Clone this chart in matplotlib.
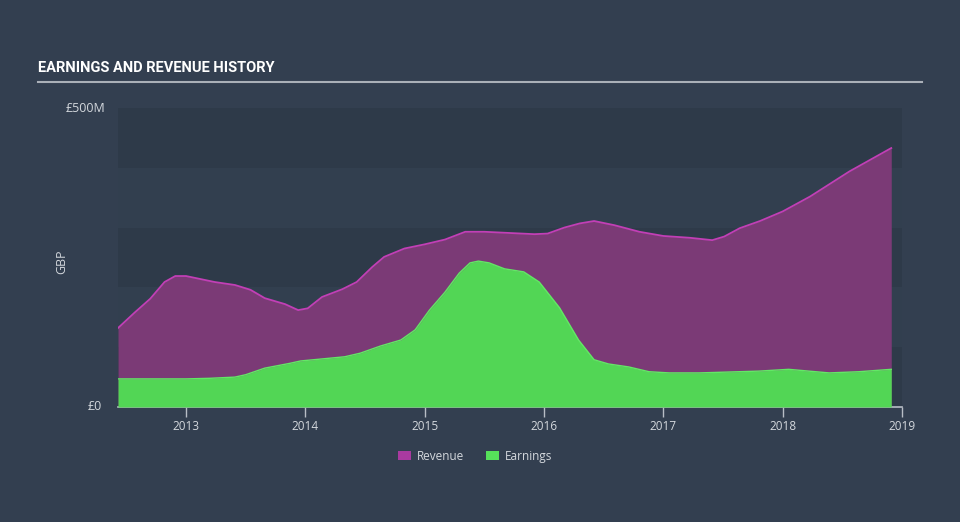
import matplotlib
matplotlib.use("Agg")
import matplotlib.pyplot as plt
from matplotlib.patches import Patch

# Revenue history (year, GBP millions)
revenue_years = [
    2012.43, 2012.57, 2012.70, 2012.82, 2012.91, 2013.00, 2013.12, 2013.24,
    2013.41, 2013.54, 2013.66, 2013.83, 2013.94, 2014.02, 2014.14, 2014.31,
    2014.43, 2014.56, 2014.66, 2014.83, 2015.00, 2015.17, 2015.34, 2015.50,
    2015.71, 2015.92, 2016.03, 2016.17, 2016.30, 2016.42, 2016.59, 2016.80,
    2017.00, 2017.22, 2017.41, 2017.51, 2017.64, 2017.81, 2018.00, 2018.23,
    2018.56, 2018.91,
]
revenue = [
    132, 158, 181, 209, 219, 219, 214, 209,
    204, 196, 182, 172, 162, 165, 184, 197,
    209, 234, 251, 265, 272, 280, 293, 293,
    291, 289, 290, 300, 307, 311, 304, 293,
    286, 283, 279, 285, 299, 311, 327, 352,
    394, 433,
]

# Earnings history (year, GBP millions)
earnings_years = [
    2012.43, 2013.00, 2013.20, 2013.41, 2013.50, 2013.66, 2013.87, 2013.96,
    2014.12, 2014.33, 2014.46, 2014.63, 2014.80, 2014.92, 2015.04, 2015.17,
    2015.29, 2015.38, 2015.45, 2015.54, 2015.67, 2015.83, 2015.96, 2016.13,
    2016.29, 2016.42, 2016.54, 2016.71, 2016.88, 2017.05, 2017.30, 2017.80,
    2018.05, 2018.39, 2018.64, 2018.91,
]
earnings = [
    47, 47, 48, 50, 54, 65, 73, 77,
    80, 84, 90, 102, 112, 129, 162, 192,
    224, 241, 244, 241, 231, 226, 209, 166,
    112, 79, 72, 67, 59, 57, 57, 60,
    63, 57, 59, 63,
]

y_tick_labels = ["£0", "£500M"]
x_ticks = [2013, 2014, 2015, 2016, 2017, 2018, 2019]

BG = "#333f50"
BAND_DARK = "#2e3a49"
BAND_LIGHT = "#323f4f"
TEXT = "#d4d8dd"
REV_FILL = "#7b3a76"
REV_LINE = "#c23fb6"
REV_SWATCH = "#a93aa0"
EARN_FILL = "#52d655"
EARN_LINE = "#62e865"
FONT = ["Open Sans", "DejaVu Sans"]

fig = plt.figure(figsize=(9.6, 5.22), dpi=100, facecolor=BG)
ax = fig.add_axes([118 / 960, (522 - 407) / 522, (902 - 118) / 960, (407 - 108) / 522])
ax.set_facecolor(BAND_LIGHT)

for lo in (0, 200, 400):
    ax.axhspan(lo, lo + 100, color=BAND_DARK, lw=0, zorder=0)

ax.fill_between(revenue_years, revenue, color=REV_FILL, lw=0, zorder=1)
ax.plot(revenue_years, revenue, color=REV_LINE, lw=1.3, zorder=2,
        solid_joinstyle="round")
ax.fill_between(earnings_years, earnings, color=EARN_FILL, lw=0, zorder=3)
ax.plot(earnings_years, earnings, color=EARN_LINE, lw=1.0, zorder=4,
        solid_joinstyle="round")

ax.set_xlim(2012.43, 2019.0)
ax.set_ylim(0, 500)

for side in ("top", "right", "left"):
    ax.spines[side].set_visible(False)
ax.spines["bottom"].set_color("#b8bec6")
ax.spines["bottom"].set_linewidth(1.2)

ax.set_xticks(x_ticks)
ax.set_xticklabels([str(y) for y in x_ticks], fontsize=8.5, color=TEXT, family=FONT)
ax.tick_params(axis="x", direction="out", length=7, width=1, color="#b8bec6", pad=2)
ax.set_yticks([])

ax.text(-0.02, 0.0, y_tick_labels[0], transform=ax.transAxes, ha="right",
        va="center", fontsize=9, color=TEXT, family=FONT)
ax.text(-0.016, 1.0, y_tick_labels[1], transform=ax.transAxes, ha="right",
        va="center", fontsize=9, color=TEXT, family=FONT)
fig.text(62 / 960, 1 - 262 / 522, "GBP", rotation=90, ha="center", va="center",
         fontsize=9, color=TEXT, family=FONT)

# title and underline
fig.text(38 / 960, 1 - 68 / 522, "EARNINGS AND REVENUE HISTORY", ha="left",
         va="center", fontsize=10.5, fontweight="bold", color="white",
         family=["Roboto", "DejaVu Sans"])
fig.add_artist(plt.Line2D([38 / 960, 922 / 960], [1 - 82 / 522, 1 - 82 / 522],
                          color="#aab0b8", lw=1.5, transform=fig.transFigure))

handles = [Patch(facecolor=REV_SWATCH, label="Revenue"),
           Patch(facecolor="#56e05a", label="Earnings")]
fig.legend(handles=handles, loc="center", bbox_to_anchor=(475 / 960, 1 - 456 / 522),
           ncol=2, frameon=False, labelcolor=TEXT,
           handlelength=1.1, handleheight=0.9, columnspacing=1.8, handletextpad=0.5,
           prop={"family": FONT, "size": 8.5})

fig.savefig("out.png", dpi=100, facecolor=BG)
